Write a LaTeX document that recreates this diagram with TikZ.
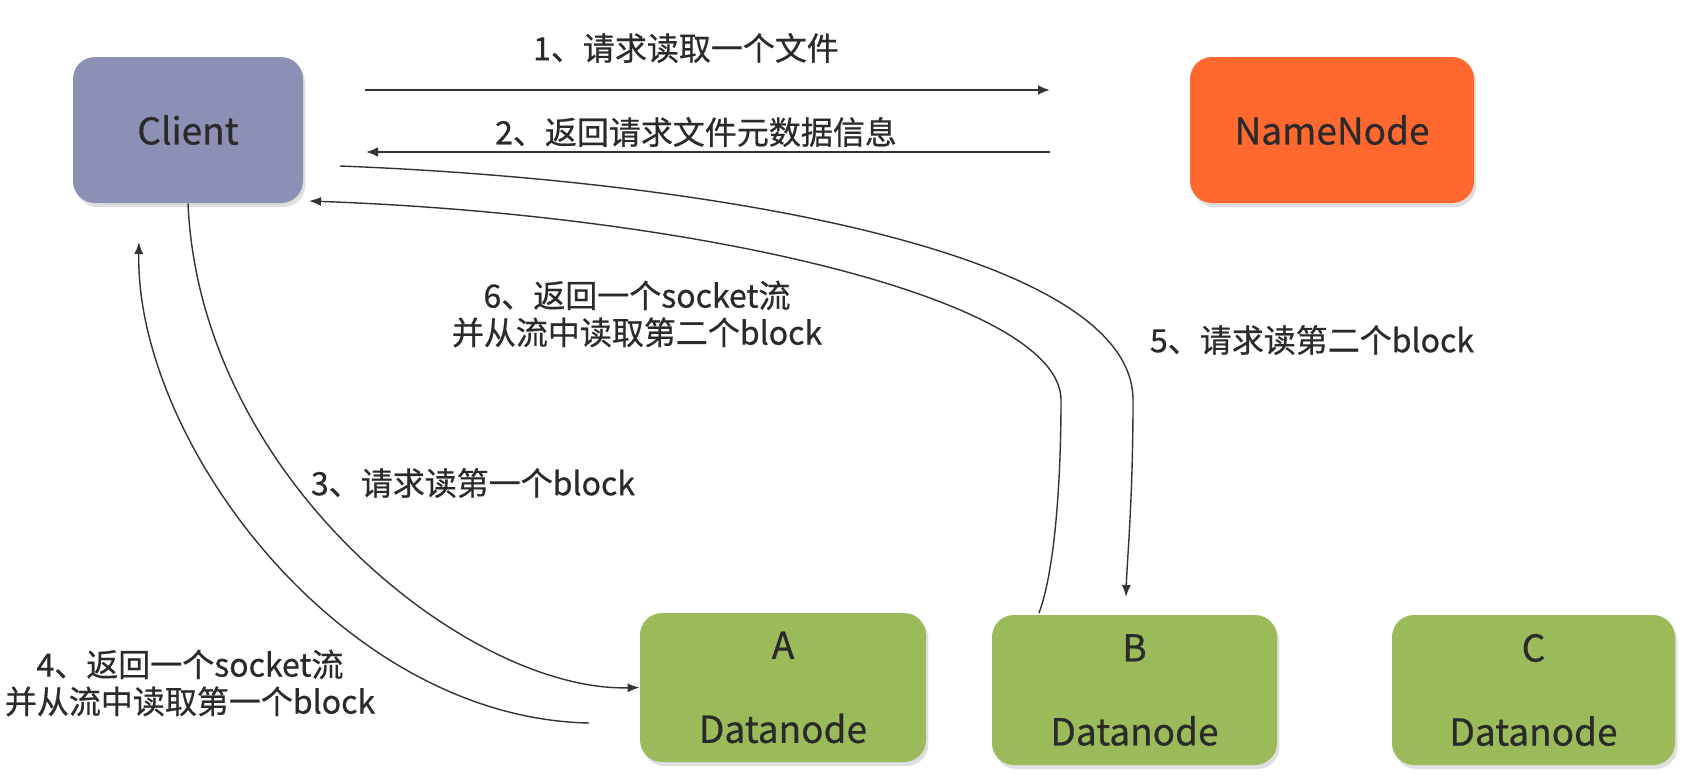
\documentclass[tikz,border=0pt]{standalone}
\usepackage{fontspec}
\setmainfont[FakeBold=0.6,AutoFakeBold=0.6]{Noto Sans CJK SC}
\usetikzlibrary{arrows.meta,shadows}
\definecolor{clientc}{HTML}{8C90B4}
\definecolor{namec}{HTML}{FF682E}
\definecolor{dnc}{HTML}{9BBB5B}
\definecolor{txt}{HTML}{2A2A2A}
\definecolor{arr}{HTML}{333333}
\begin{document}
\begin{tikzpicture}[x=0.5pt,y=-0.5pt,
  box/.style={draw=none, rounded corners=11pt, inner sep=0pt, text=txt,
    font=\fontsize{18.5}{42}\selectfont\bfseries, align=center,
    drop shadow={shadow xshift=1.2pt, shadow yshift=-2pt, opacity=0.25}},
  lab/.style={text=txt, font=\fontsize{16}{18.5}\selectfont\bfseries, align=center, inner sep=0pt},
  strarrow/.style={draw=arr, line width=1.2pt, -{Latex[length=6pt,width=5pt]}},
  curvearrow/.style={draw=arr, line width=0.7pt, -{Latex[length=6pt,width=4.5pt]}}]
\fill[white] (0,0) rectangle (1685,776);
\useasboundingbox (0,0) rectangle (1685,776);

% boxes
\node[box, fill=clientc, minimum width=115pt, minimum height=73pt] (client) at (188,130) {Client};
\node[box, fill=namec, minimum width=142pt, minimum height=73pt] (namenode) at (1332,130) {NameNode};
\node[box, fill=dnc, minimum width=143pt, minimum height=74.5pt] (A) at (783,687.5) {A\\Datanode};
\node[box, fill=dnc, minimum width=142.5pt, minimum height=75pt] (B) at (1134.5,690) {B\\Datanode};
\node[box, fill=dnc, minimum width=141.5pt, minimum height=75pt] (C) at (1533.5,690) {C\\Datanode};

% labels
\node[lab] (l1) at (686,48) {1、请求读取一个文件};
\node[lab] (l2) at (696,132) {2、返回请求文件元数据信息};
\node[lab] (l3) at (473,483) {3、请求读第一个block};
\node[lab] (l4) at (190,683) {4、返回一个socket流\\并从流中读取第一个block};
\node[lab] (l5) at (1312,340) {5、请求读第二个block};
\node[lab] (l6) at (637,314) {6、返回一个socket流\\并从流中读取第二个block};

% connector ends
\coordinate (a1s) at (365,90);
\coordinate (a1e) at (1050,90);
\coordinate (a2s) at (1050,152);
\coordinate (a2e) at (366,152);
\coordinate (c4s) at (589,723);
\coordinate (c4e) at (139,242);
\coordinate (c5s) at (340,166);
\coordinate (c5e) at (1126,597);
\coordinate (c6s) at (1039,613);
\coordinate (c6e) at (309,201);

% connectors
\draw[strarrow] (a1s) -- (a1e);
\draw[strarrow] (a2s) -- (a2e);
\draw[curvearrow] (client.south) .. controls (200,480) and (470,692) .. (A.west);
\draw[curvearrow] (c4s) .. controls (340,718) and (135,440) .. (c4e);
\draw[curvearrow] (c5s) .. controls (700,180) and (1133,250) .. (1133,400) .. controls (1133,500) and (1127,560) .. (c5e);
\draw[curvearrow] (c6s) .. controls (1055,570) and (1061,480) .. (1061,400) .. controls (1061,300) and (700,215) .. (c6e);
\end{tikzpicture}
\end{document}
